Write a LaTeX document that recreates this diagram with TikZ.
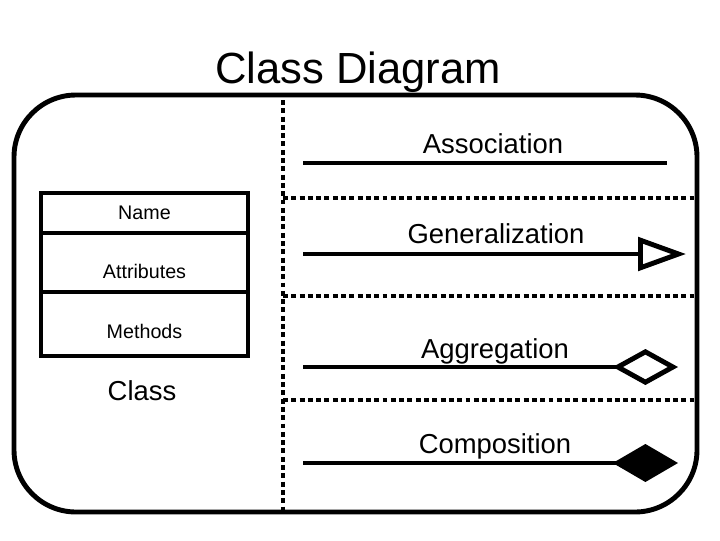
\documentclass[tikz,border=0pt]{standalone}
\usepackage{fontspec}
\setmainfont{Liberation Sans}
\usetikzlibrary{arrows.meta,positioning}

\begin{document}
\begin{tikzpicture}[
  x=0.025cm, y=-0.025cm,
  title/.style={font=\fontsize{31}{36}\selectfont, anchor=base},
  rellabel/.style={font=\fontsize{19.5}{23}\selectfont, anchor=base},
  compart/.style={draw, line width=2.8pt, rectangle, outer sep=0pt, inner sep=0pt, minimum width=5.175cm, text depth=0pt, font=\fontsize{14}{17}\selectfont},
  frame/.style={line width=3.5pt, rounded corners=1.55cm},
  sep/.style={line width=3.5pt, dash pattern=on 3.5pt off 2.4pt},
  relline/.style={line width=3.5pt}
]
\useasboundingbox (0,0) rectangle (720,540);

\node[title] (title) at (358,83) {Class Diagram};

\draw[frame] (14,95) rectangle (697,512);

% separators
\coordinate (vtop) at (283,100);
\coordinate (vbot) at (283,510);
\draw[sep] (vtop) -- (vbot);
\foreach \yy/\nm in {198/sepA, 296/sepB, 400/sepC} {
  \coordinate (\nm L) at (283,\yy);
  \coordinate (\nm R) at (695,\yy);
  \draw[sep] (\nm L) -- (\nm R);
}

% class box
\node[compart, minimum height=1cm, text height=0.3cm] (cname) at (144.5,213) {Name};
\node[compart, minimum height=1.475cm, text height=0.775cm, below=0pt of cname] (cattr) {Attributes};
\node[compart, minimum height=1.6cm, text height=0.7cm, below=0pt of cattr] (cmeth) {Methods};
\node[rellabel] (classlbl) at (142,400) {Class};

% relations
\coordinate (assocA) at (303,163);
\coordinate (assocB) at (667,163);
\draw[relline] (assocA) -- (assocB);
\node[rellabel] (assoclbl) at (493,153) {Association};

\coordinate (genA) at (303,254);
\coordinate (genB) at (686,254);
\draw[relline, -{Triangle[open, length=1.2cm, width=0.83cm]}] (genA) -- (genB);
\node[rellabel] (genlbl) at (496,243) {Generalization};

\coordinate (aggA) at (303,367);
\coordinate (aggB) at (678,367);
\draw[relline, -{Diamond[open, length=1.63cm, width=0.9cm]}] (aggA) -- (aggB);
\node[rellabel] (agglbl) at (495,358) {Aggregation};

\coordinate (compA) at (303,463);
\coordinate (compB) at (678,463);
\draw[relline, -{Diamond[length=1.63cm, width=0.95cm]}] (compA) -- (compB);
\node[rellabel] (complbl) at (495,453) {Composition};

\end{tikzpicture}
\end{document}
